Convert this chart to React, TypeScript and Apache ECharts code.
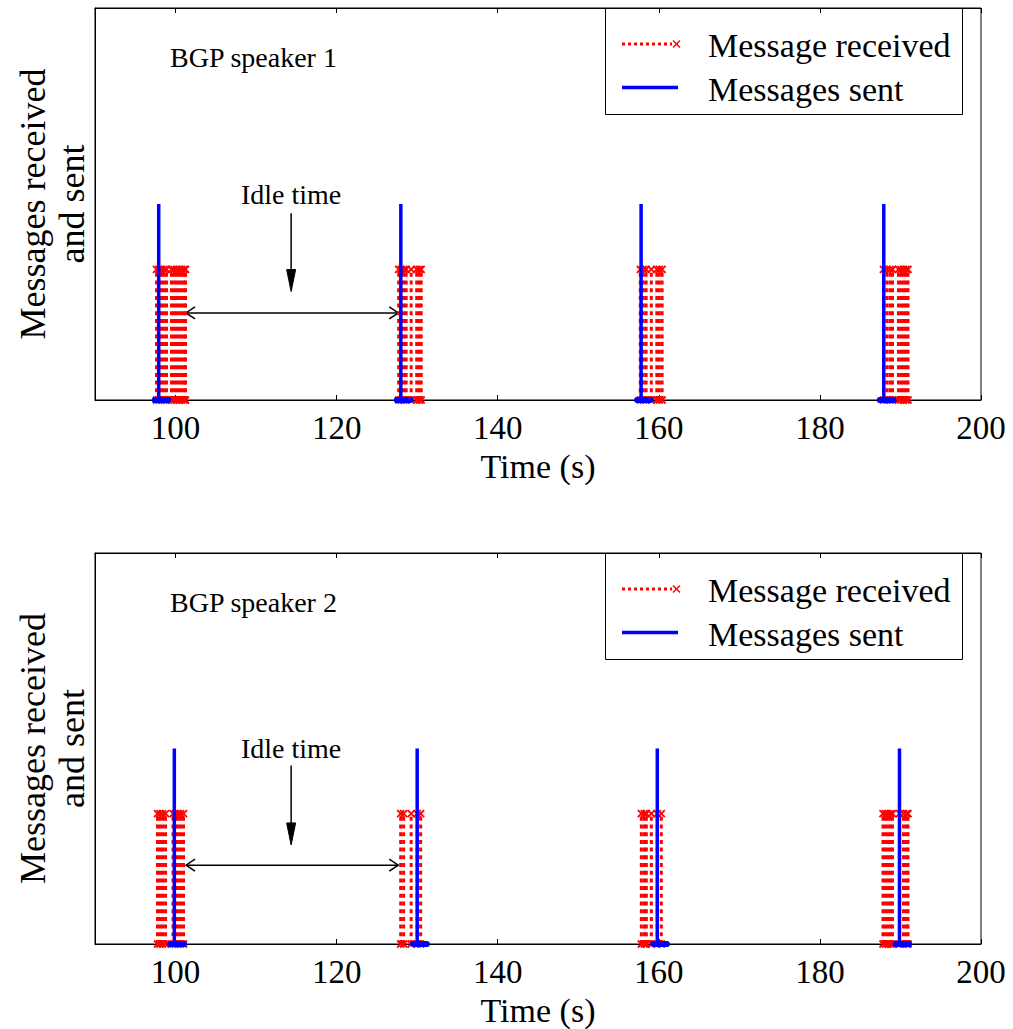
import React, { useEffect, useRef } from "react";
import * as echarts from "echarts";

// Axis ranges and tick positions shared by both panels
const X_MIN = 90;
const X_MAX = 200;
const Y_MAX = 3;
const X_TICKS = [100, 120, 140, 160, 180, 200];

// Stem heights of the two message kinds
const RECEIVED_HEIGHT = 1;
const SENT_HEIGHT = 1.5;
// Extent of the sent trace along the baseline around each sent burst (s)
const SENT_BASE_BEFORE = 0.5;
const SENT_BASE_AFTER = 1.2;

// BGP speaker 1: times (s) of received updates and of sent bursts
const SPEAKER1_RECEIVED = [
  97.64, 97.95, 98.26, 98.57, 98.88, 99.5, 99.81, 100.12, 100.43, 100.75, 101.06, 101.24,
  127.7, 128.01, 128.32, 128.63, 129.25, 129.94, 130.25, 130.5,
  157.7, 158.07, 158.42, 159.07, 159.75, 160.06, 160.41,
  187.89, 188.32, 188.7, 189.01, 189.75, 190.07, 190.38, 190.69, 190.94,
];
const SPEAKER1_SENT = [97.91, 127.97, 157.8, 187.93];

// BGP speaker 2
const SPEAKER2_RECEIVED = [
  97.76, 98.07, 98.39, 98.76, 99.69, 100.0, 100.31, 100.62, 100.99,
  127.95, 128.32, 129.25, 130.0, 130.43,
  157.83, 158.2, 158.45, 159.07, 159.81, 160.31,
  187.83, 188.14, 188.45, 188.76, 189.01, 189.88, 190.38, 190.75, 190.94,
];
const SPEAKER2_SENT = [99.85, 130.0, 159.81, 189.88];

const PANEL_TITLES = ["BGP speaker 1", "BGP speaker 2"];
const LEGEND_LABELS = ["Message received", "Messages sent"];
const X_LABEL = "Time (s)";
const Y_LABEL = "Messages received\nand sent";
const IDLE_LABEL = "Idle time";

// Idle-time annotation, in data units: double arrow [from, to] at level,
// pointer arrow at x from top down to tip, label height
const IDLE_SPANS = [
  { from: 101.3, to: 127.65, level: 0.666, x: 114.35, top: 1.43, tip: 0.83, label: 1.57 },
  { from: 101.3, to: 127.65, level: 0.605, x: 114.35, top: 1.37, tip: 0.76, label: 1.5 },
];

const FONT = "Times New Roman";
const RED = "#ff0000";
const BLUE = "#0000ff";

// Panel layout in pixels
const GRID_LEFT = 95;
const GRID_WIDTH = 886;
const PANELS = [
  { top: 8, height: 392 },
  { top: 553, height: 391 },
];

function receivedItem(params: any, api: any) {
  const t = api.value(0);
  const h = api.value(1);
  const p0 = api.coord([t, 0]);
  const p1 = api.coord([t, h]);
  const m = 3.5;
  const cross = (p: number[]) => [
    { type: "line", shape: { x1: p[0] - m, y1: p[1] - m, x2: p[0] + m, y2: p[1] + m }, style: { stroke: RED, lineWidth: 1.8 } },
    { type: "line", shape: { x1: p[0] - m, y1: p[1] + m, x2: p[0] + m, y2: p[1] - m }, style: { stroke: RED, lineWidth: 1.8 } },
  ];
  return {
    type: "group",
    children: [
      {
        type: "line",
        shape: { x1: p0[0], y1: p0[1], x2: p1[0], y2: p1[1] },
        style: { stroke: RED, lineWidth: 3, lineDash: [4, 3.7] },
      },
      ...cross(p0),
      ...cross(p1),
    ],
  };
}

function sentItem(params: any, api: any) {
  const t = api.value(0);
  const h = api.value(1);
  const p0 = api.coord([t, 0]);
  const p1 = api.coord([t, h]);
  const b0 = api.coord([t - SENT_BASE_BEFORE, 0]);
  const b1 = api.coord([t + SENT_BASE_AFTER, 0]);
  return {
    type: "group",
    children: [
      {
        type: "line",
        shape: { x1: b0[0], y1: b0[1], x2: b1[0], y2: b1[1] },
        style: { stroke: BLUE, lineWidth: 6, lineCap: "round" },
      },
      {
        type: "line",
        shape: { x1: p0[0], y1: p0[1], x2: p1[0], y2: p1[1] },
        style: { stroke: BLUE, lineWidth: 3.5 },
      },
    ],
  };
}

const px = (t: number) => GRID_LEFT + ((t - X_MIN) / (X_MAX - X_MIN)) * GRID_WIDTH;
const py = (v: number, panel: { top: number; height: number }) =>
  panel.top + panel.height - (v / Y_MAX) * panel.height;

function panelGraphics(i: number) {
  const panel = PANELS[i];
  const idle = IDLE_SPANS[i];
  const top = panel.top;
  const textStyle = (size: number) => ({ fontFamily: FONT, fontSize: size, fill: "#000" });

  // legend box
  const lx = 605.5;
  const ly1 = top + 36;
  const ly2 = top + 79.5;
  const legend: any[] = [
    { type: "rect", shape: { x: lx, y: top + 0.5, width: 357, height: 106 }, style: { fill: "#fff", stroke: "#000", lineWidth: 1 } },
    { type: "line", shape: { x1: 622, y1: ly1, x2: 672, y2: ly1 }, style: { stroke: RED, lineWidth: 3, lineDash: [3, 3] } },
    { type: "line", shape: { x1: 673, y1: ly1 - 3.5, x2: 680, y2: ly1 + 3.5 }, style: { stroke: RED, lineWidth: 1.5 } },
    { type: "line", shape: { x1: 673, y1: ly1 + 3.5, x2: 680, y2: ly1 - 3.5 }, style: { stroke: RED, lineWidth: 1.5 } },
    { type: "line", shape: { x1: 622, y1: ly2, x2: 678, y2: ly2 }, style: { stroke: BLUE, lineWidth: 3.5 } },
    { type: "text", x: 708, y: ly1 + 1, style: { ...textStyle(34), text: LEGEND_LABELS[0], verticalAlign: "middle" } },
    { type: "text", x: 708, y: ly2 + 2, style: { ...textStyle(34), text: LEGEND_LABELS[1], verticalAlign: "middle" } },
  ];

  // idle-time annotation
  const ax = px(idle.x);
  const aTop = py(idle.top, panel);
  const aTip = py(idle.tip, panel);
  const hy = py(idle.level, panel);
  const hx0 = px(idle.from);
  const hx1 = px(idle.to);
  const annot: any[] = [
    { type: "text", x: ax, y: py(idle.label, panel), style: { ...textStyle(28), text: IDLE_LABEL, align: "center", verticalAlign: "middle" } },
    { type: "line", shape: { x1: ax, y1: aTop, x2: ax, y2: aTip - 12 }, style: { stroke: "#000", lineWidth: 1.5 } },
    { type: "polygon", shape: { points: [[ax - 4.5, aTip - 22], [ax + 4.5, aTip - 22], [ax, aTip]] }, style: { fill: "#000", stroke: "#000", lineWidth: 1 } },
    { type: "line", shape: { x1: hx0, y1: hy, x2: hx1, y2: hy }, style: { stroke: "#000", lineWidth: 1.5 } },
    { type: "polyline", shape: { points: [[hx0 + 9, hy - 6], [hx0, hy], [hx0 + 9, hy + 6]] }, style: { stroke: "#000", lineWidth: 1.5, fill: "none" } },
    { type: "polyline", shape: { points: [[hx1 - 9, hy - 6], [hx1, hy], [hx1 - 9, hy + 6]] }, style: { stroke: "#000", lineWidth: 1.5, fill: "none" } },
    { type: "text", x: 170, y: top + 49, style: { ...textStyle(28), text: PANEL_TITLES[i], verticalAlign: "middle" } },
    {
      type: "text",
      x: 52,
      y: top + panel.height / 2,
      rotation: Math.PI / 2,
      style: { ...textStyle(36), text: Y_LABEL, align: "center", verticalAlign: "middle", lineHeight: 39 },
    },
  ];
  return [...annot, ...legend];
}

export default function App() {
  const ref = useRef<HTMLDivElement>(null);

  useEffect(() => {
    if (!ref.current) return;
    const chart = echarts.init(ref.current, undefined, { renderer: "svg" });

    const grids = PANELS.map((p) => ({
      left: GRID_LEFT,
      top: p.top,
      width: GRID_WIDTH,
      height: p.height,
      show: true,
      borderColor: "#000",
      borderWidth: 1,
      backgroundColor: "#fff",
    }));

    const bottomAxis = (gridIndex: number) => ({
      type: "value",
      gridIndex,
      position: "bottom",
      min: X_MIN,
      max: X_MAX,
      name: X_LABEL,
      nameLocation: "middle",
      nameGap: 49,
      nameTextStyle: { fontFamily: FONT, fontSize: 34, color: "#000" },
      axisLine: { show: true, lineStyle: { color: "#000", width: 1 } },
      axisTick: { show: true, inside: true, length: 5, customValues: X_TICKS, lineStyle: { color: "#000" } },
      axisLabel: { show: true, customValues: X_TICKS, margin: 11, fontFamily: FONT, fontSize: 33, color: "#000" },
      splitLine: { show: false },
    });
    const topAxis = (gridIndex: number) => ({
      type: "value",
      gridIndex,
      position: "top",
      min: X_MIN,
      max: X_MAX,
      axisLine: { show: true, lineStyle: { color: "#000", width: 1 } },
      axisTick: { show: true, inside: true, length: 5, customValues: X_TICKS, lineStyle: { color: "#000" } },
      axisLabel: { show: false, customValues: X_TICKS },
      splitLine: { show: false },
    });
    const yAxis = (gridIndex: number) => ({
      type: "value",
      gridIndex,
      min: 0,
      max: Y_MAX,
      axisLine: { show: true, lineStyle: { color: "#000" } },
      axisTick: { show: false },
      axisLabel: { show: false },
      splitLine: { show: false },
    });

    const panelSeries = (received: number[], sent: number[], panel: number) => [
      {
        type: "custom",
        name: LEGEND_LABELS[0],
        xAxisIndex: panel * 2,
        yAxisIndex: panel,
        renderItem: receivedItem,
        encode: { x: 0, y: 1 },
        clip: false,
        z: 2,
        data: received.map((t) => [t, RECEIVED_HEIGHT]),
      },
      {
        type: "custom",
        name: LEGEND_LABELS[1],
        xAxisIndex: panel * 2,
        yAxisIndex: panel,
        renderItem: sentItem,
        encode: { x: 0, y: 1 },
        clip: false,
        z: 3,
        data: sent.map((t) => [t, SENT_HEIGHT]),
      },
    ];

    chart.setOption({
      animation: false,
      backgroundColor: "#fff",
      grid: grids,
      xAxis: [bottomAxis(0), topAxis(0), bottomAxis(1), topAxis(1)],
      yAxis: [yAxis(0), yAxis(1)],
      series: [
        ...panelSeries(SPEAKER1_RECEIVED, SPEAKER1_SENT, 0),
        ...panelSeries(SPEAKER2_RECEIVED, SPEAKER2_SENT, 1),
      ],
      graphic: [...panelGraphics(0), ...panelGraphics(1)],
    });

    return () => chart.dispose();
  }, []);

  return (
    <div
      ref={ref}
      style={{ position: "absolute", left: 0, top: 0, width: 1013, height: 1029, background: "#fff" }}
    />
  );
}
